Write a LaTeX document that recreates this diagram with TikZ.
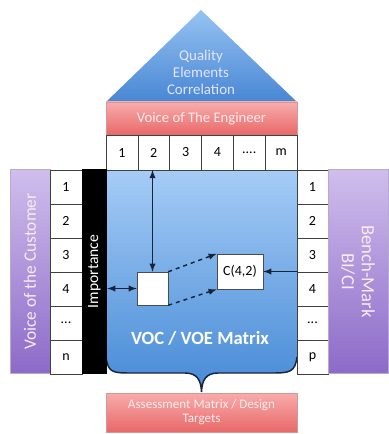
\documentclass[tikz,border=0pt]{standalone}
\usepackage{fontspec}
\setmainfont{Carlito}
\usepackage{tikz}
\definecolor{roofblue}{RGB}{72, 134, 212}
\definecolor{rooflight}{RGB}{150, 195, 242}
\definecolor{matblue}{RGB}{70, 138, 214}
\definecolor{matlight}{RGB}{165, 204, 246}
\definecolor{engred}{RGB}{232, 104, 104}
\definecolor{englight}{RGB}{248, 172, 172}
\definecolor{custpurple}{RGB}{140, 106, 200}
\definecolor{custlight}{RGB}{208, 190, 236}
\definecolor{linedark}{RGB}{25, 35, 60}
\usetikzlibrary{shapes, arrows, positioning, calc}

\begin{document}
\begin{tikzpicture}[
    x=0.75pt, y=-0.75pt,
    >=latex,
    cell/.style={draw=black!75, fill=white, inner sep=0pt, outer sep=0pt, minimum height=25.5pt, font=\fontsize{10.5}{12}\selectfont},
    redbox/.style={top color=englight, bottom color=engred, draw=engred!80!black!60, inner sep=0pt, minimum width=143.25pt, text=white!92!red, align=center},
    panel/.style={top color=custlight, bottom color=custpurple, draw=custpurple!80!black!50, inner sep=0pt, minimum height=153pt},
    arrow/.style={<->, line width=1.1pt, draw=linedark},
    dasharrow/.style={->, line width=1.1pt, dashed, draw=linedark}
]
    \useasboundingbox (0,0) rectangle (388,434);

    % roof
    \shade[top color=rooflight, bottom color=roofblue] (106,102) -- (201,10) -- (297,102) -- cycle;
    \node[align=center, text=white!90!blue, font=\fontsize{11.2}{12.75}\selectfont] (roof) at (201,72) {Quality\\Elements\\Correlation};

    \node[redbox, minimum height=24.75pt, font=\fontsize{11}{13}\selectfont] (voe) at (201.5,118.5) {Voice of The Engineer};

    % matrix body
    \shade[top color=matlight, bottom color=matblue] (106,170) -- (297,170) -- (297,357)
        .. controls (295,372) and (290,373) .. (272,373) -- (218,373)
        .. controls (206,373) and (202,380) .. (201.5,392)
        .. controls (201,380) and (197,373) .. (185,373) -- (130,373)
        .. controls (112,373) and (108,372) .. (106,357) -- cycle;
    \draw[line width=1.1pt, draw=linedark] (297,357)
        .. controls (295,372) and (290,373) .. (272,373) -- (218,373)
        .. controls (206,373) and (202,380) .. (201.5,392)
        .. controls (201,380) and (197,373) .. (185,373) -- (130,373)
        .. controls (112,373) and (108,372) .. (106,357);
    \node[text=white, font=\fontsize{14}{16}\selectfont\bfseries] (vocvoe) at (200,338) {VOC / VOE Matrix};

    % engineer columns
    \node[cell, minimum width=23.87pt, minimum height=26.25pt] (tc1) at (121.9,152.5) {1};
    \node[cell, minimum width=23.87pt, minimum height=26.25pt] (tc2) at (153.75,152.5) {2};
    \node[cell, minimum width=23.87pt, minimum height=26.25pt] (tc3) at (185.6,152.5) {3};
    \node[cell, minimum width=23.87pt, minimum height=26.25pt] (tc4) at (217.4,152.5) {4};
    \node[cell, minimum width=23.87pt, minimum height=26.25pt] (tc5) at (249.25,152.5) {....};
    \node[cell, minimum width=23.87pt, minimum height=26.25pt] (tc6) at (281.1,152.5) {m};

    % customer side
    \node[panel, minimum width=30pt] (cust) at (30,271.5) {};
    \node[rotate=90, text=white!92!purple, font=\fontsize{13}{15}\selectfont] at (cust) {Voice of the Customer};
    \node[cell, minimum width=24pt] (lc1) at (66,187) {1};
    \node[cell, minimum width=24pt] (lc2) at (66,221) {2};
    \node[cell, minimum width=24pt] (lc3) at (66,255) {3};
    \node[cell, minimum width=24pt] (lc4) at (66,289) {4};
    \node[cell, minimum width=24pt] (lc5) at (66,323) {...};
    \node[cell, minimum width=24pt] (lc6) at (66,357) {n};
    \node[fill=black, inner sep=0pt, minimum width=18.75pt, minimum height=153pt] (imp) at (94.5,271.5) {};
    \node[rotate=90, text=white, font=\fontsize{11.7}{13}\selectfont] at (imp) {Importance};

    % bench-mark side
    \node[cell, minimum width=23.25pt] (rc1) at (312.5,187) {1};
    \node[cell, minimum width=23.25pt] (rc2) at (312.5,221) {2};
    \node[cell, minimum width=23.25pt] (rc3) at (312.5,255) {3};
    \node[cell, minimum width=23.25pt] (rc4) at (312.5,289) {4};
    \node[cell, minimum width=23.25pt] (rc5) at (312.5,323) {...};
    \node[cell, minimum width=23.25pt] (rc6) at (312.5,357) {p};
    \node[panel, minimum width=45pt] (bench) at (358,271.5) {};
    \node[rotate=-90, align=center, text=white!92!purple, font=\fontsize{14}{15}\selectfont] at (bench) {Bench-Mark\\BI/CI};

    % cells inside
    \node[draw=black!70, fill=white, inner sep=0pt, minimum width=23.25pt, minimum height=24.75pt] (wbox) at (152.5,288.5) {};
    \node[draw=black!70, fill=white, inner sep=0pt, minimum width=34.5pt, minimum height=26.25pt, font=\fontsize{10.5}{12}\selectfont] (cbox) at (240,271.5) {C(4,2)};

    \draw[arrow] (wbox.north) -- (wbox.north |- tc2.south);
    \draw[arrow] (wbox.west) -- (wbox.west -| imp.east);
    \draw[->, line width=1.1pt, draw=linedark] (cbox.east -| rc3.west) -- (cbox.east);
    \draw[dasharrow] (wbox.north east) -- (cbox.north west);
    \draw[dasharrow] (wbox.south east) -- (cbox.south west);

    \node[redbox, minimum height=29.25pt, font=\fontsize{9.8}{10.5}\selectfont] (assess) at (201.5,412.5) {Assessment Matrix / Design\\Targets};
\end{tikzpicture}
\end{document}
